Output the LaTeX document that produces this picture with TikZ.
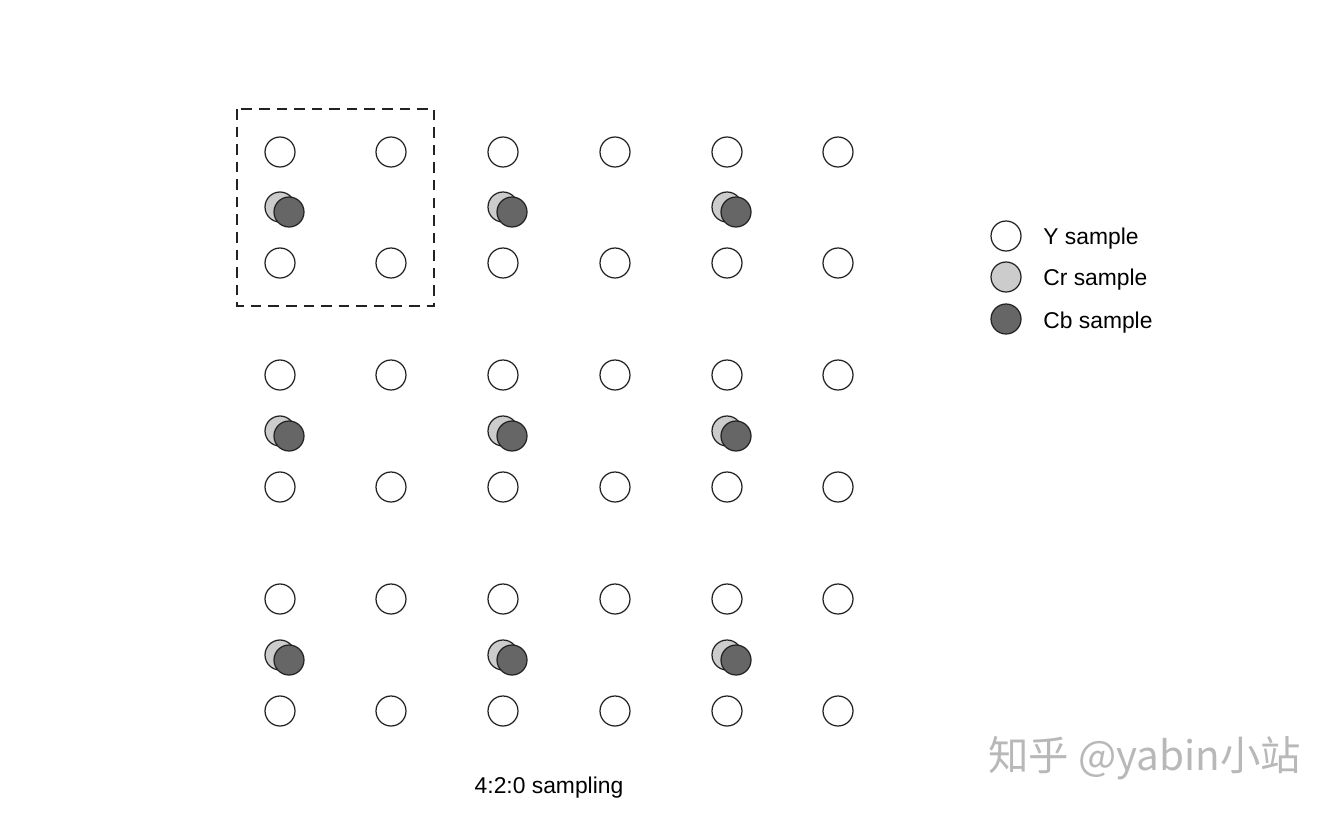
\documentclass[tikz,border=0pt]{standalone}
\usepackage{fontspec}
\setmainfont{Liberation Sans}
\newfontfamily\cjkfont{Noto Sans CJK SC}
\usepackage{xcolor}
\definecolor{crgray}{HTML}{CCCCCC}
\definecolor{cbgray}{HTML}{666666}
\definecolor{inkgray}{HTML}{222222}

\begin{document}
\begin{tikzpicture}[x=0.02cm,y=-0.02cm,
        sample/.style={circle,draw=inkgray,line width=0.7pt,
                       minimum size=0.6cm,inner sep=0pt},
        ysample/.style={sample,fill=white},
        crsample/.style={sample,fill=crgray},
        cbsample/.style={sample,fill=cbgray},
        label/.style={anchor=west,font=\fontsize{13}{15}\selectfont,inner sep=0pt}]
      \useasboundingbox (0,0) rectangle (1334,818);
      % luma grid
      \foreach \col/\x in {1/280,2/391,3/503,4/615,5/727,6/838}
        \foreach \row/\y in {1/152,2/263,3/375,4/487,5/599,6/711}
          \node[ysample] (y\row\col) at (\x,\y) {};
      % chroma pairs
      \foreach \col/\x in {1/280,2/503,3/727}
        \foreach \row/\y in {1/207,2/431,3/655} {
          \node[crsample] (cr\row\col) at (\x,\y) {};
          \node[cbsample] (cb\row\col) at (\x+9,\y+5) {};
        }
      % one 2x2 block
      \draw[inkgray,dashed,dash pattern=on 6pt off 4pt,line width=0.7pt]
        (237,109) rectangle (434,306);
      % legend
      \node[ysample]  (ykey)  at (1006,236) {};
      \node[crsample] (crkey) at (1006,277) {};
      \node[cbsample] (cbkey) at (1006,319) {};
      \node[label] (ytxt)  at (1043,239) {Y sample};
      \node[label] (crtxt) at (1043,280) {Cr sample};
      \node[label] (cbtxt) at (1043,323) {Cb sample};
      \node[font=\fontsize{13}{15}\selectfont,inner sep=0pt] (caption) at (549,788) {4:2:0 sampling};
      \node[anchor=west,inner sep=0pt,text=black!28,font=\cjkfont\fontsize{23}{26}\selectfont]
        (mark) at (988,758) {知乎 @yabin小站};
    \end{tikzpicture}
\end{document}
